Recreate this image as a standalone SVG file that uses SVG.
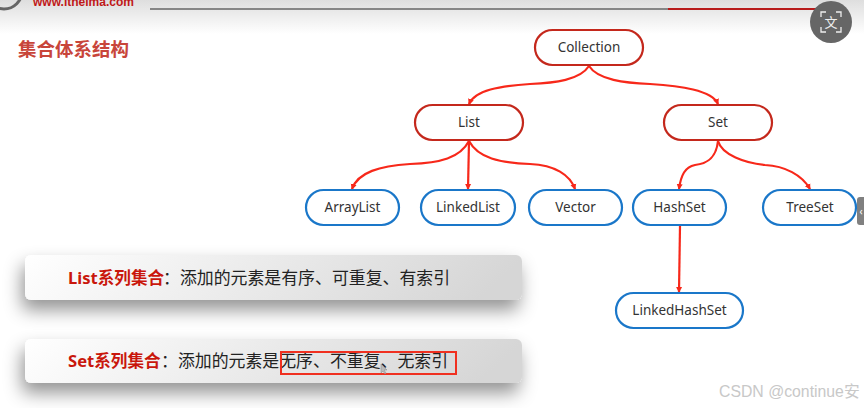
<svg xmlns="http://www.w3.org/2000/svg" width="864" height="408" viewBox="0 0 864 408">
<style>
text{font-family:"Noto Sans","Noto Sans CJK SC",sans-serif}
.n rect{fill:#fff;stroke-width:2.2}
.r rect{stroke:#c4281c}
.b rect{stroke:#1a77c9}
.n text{font-size:13.5px;fill:#333;text-anchor:middle}
.c path{fill:none;stroke:#f7281a;stroke-width:2.2}
.p{fill:url(#pg);filter:url(#sh)}
.t{font-size:16.9px;fill:#222}
.h{font-size:16.6px;font-weight:700;fill:#c9170c}
</style>
<defs>
<linearGradient id="hg" x1="0" y1="0" x2="0" y2="1"><stop offset="0" stop-color="#dedede"/><stop offset="1" stop-color="#fff"/></linearGradient>
<linearGradient id="pg" x1="0" y1="0" x2="1" y2="0.1"><stop offset="0" stop-color="#fff"/><stop offset="1" stop-color="#d6d6d6"/></linearGradient>
<filter id="sh" x="-10%" y="-60%" width="120%" height="260%"><feDropShadow dx="-3" dy="10" stdDeviation="9" flood-color="#000" flood-opacity=".42"/></filter>
<marker id="a" markerWidth="7" markerHeight="7" refX="5" refY="3.500" orient="auto" markerUnits="userSpaceOnUse"><path d="M0 0.500L6 3.500L0 6.500Z" fill="#f7281a"/></marker>
</defs>
<rect width="864" height="408" fill="#fff"/>
<rect width="864" height="34" fill="url(#hg)"/>
<g id="header">
<circle cx="4" cy="-9" r="18" fill="none" stroke="#666" stroke-width="3"/>
<text x="33" y="6" font-size="12" font-weight="700" style="font-family:'Liberation Sans',sans-serif" fill="#c01818">www.itheima.com</text>
<path d="M150 9H668" stroke="#666" stroke-width="1.600"/>
<path d="M668 9H830" stroke="#b81c1c" stroke-width="2"/>
<circle cx="831" cy="22" r="21" fill="#666"/>
<path d="M821 17v-5h5M836 12h5v5M821 27v5h5M836 32h5v-5" fill="none" stroke="#eee" stroke-width="1.300"/>
<text x="831" y="27" font-size="13" fill="#eee" text-anchor="middle">文</text>
<rect x="857" y="197" width="12" height="28" rx="3" fill="#808080"/>
<text x="861" y="215" font-size="10" fill="#fff" text-anchor="middle">‹</text>
</g>
<text x="18" y="56" font-size="18.500" font-weight="700" fill="#c8453a">集合体系结构</text>
<g class="c" id="connectors">
<path d="M589 66C580 80 555 83 530 84C500 86 475 90 469 104" marker-end="url(#a)"/>
<path d="M589 66C598 80 625 83 650 84C680 86 712 90 718 104" marker-end="url(#a)"/>
<path d="M469 141C460 158 440 163 410 164C380 166 358 172 352 189" marker-end="url(#a)"/>
<path d="M469 141L468 189" marker-end="url(#a)"/>
<path d="M469 141C478 158 500 163 530 164C555 165 570 175 575 189" marker-end="url(#a)"/>
<path d="M718 141C716 160 705 164 695 165C685 167 681 175 679 189" marker-end="url(#a)"/>
<path d="M718 141C722 155 745 163 765 165C785 166 802 175 810 189" marker-end="url(#a)"/>
<path d="M680 226L679 292" marker-end="url(#a)"/>
</g>
<g id="n-collection" class="n r"><rect x="535" y="30" width="108" height="35" rx="17.500"/><text x="589" y="52">Collection</text></g>
<g id="n-list" class="n r"><rect x="415" y="105" width="108" height="35" rx="17.500"/><text x="469" y="127">List</text></g>
<g id="n-set" class="n r"><rect x="664" y="105" width="108" height="35" rx="17.500"/><text x="718" y="127">Set</text></g>
<g id="n-arraylist" class="n b"><rect x="306" y="190" width="93" height="35" rx="17.500"/><text x="352.500" y="212">ArrayList</text></g>
<g id="n-linkedlist" class="n b"><rect x="421" y="190" width="94" height="35" rx="17.500"/><text x="468" y="212">LinkedList</text></g>
<g id="n-vector" class="n b"><rect x="529" y="190" width="93" height="35" rx="17.500"/><text x="575.500" y="212">Vector</text></g>
<g id="n-hashset" class="n b"><rect x="633" y="190" width="93" height="35" rx="17.500"/><text x="679.500" y="212">HashSet</text></g>
<g id="n-treeset" class="n b"><rect x="763" y="190" width="93" height="35" rx="17.500"/><text x="810" y="212">TreeSet</text></g>
<g id="n-linkedhashset" class="n b"><rect x="616" y="293" width="127" height="35" rx="17.500"/><text x="679.500" y="315">LinkedHashSet</text></g>
<g id="panel-list">
<rect class="p" x="25" y="255" width="497" height="45" rx="6"/>
<text x="68" y="284" class="h">List系列集合</text>
<text x="163" y="284" class="t">：添加的元素是有序、可重复、有索引</text>
</g>
<g id="panel-set">
<rect class="p" x="25" y="339" width="497" height="44" rx="6"/>
<text x="68" y="367" class="h">Set系列集合</text>
<text x="161" y="367" class="t">：添加的元素是无序、不重复、无索引</text>
<rect x="281" y="352" width="175" height="22" fill="none" stroke="#f03020" stroke-width="2"/>
<path d="M381 364l0 9 2-2 2 3 1-1-2-3 3 0z" fill="#bbb" stroke="#888" stroke-width=".5"/>
</g>
<text x="719" y="397" font-size="15.800" fill="#c8c8c8" style="font-family:'Liberation Sans','Noto Sans CJK SC',sans-serif">CSDN @continue安</text>
</svg>
